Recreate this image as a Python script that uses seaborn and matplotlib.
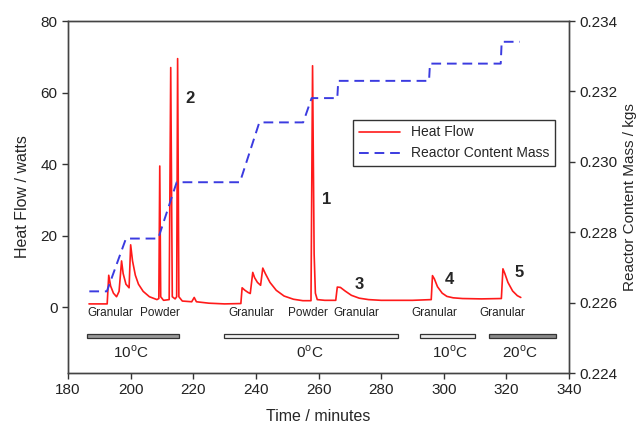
import matplotlib
matplotlib.use("Agg")
import matplotlib.pyplot as plt
import seaborn as sns
import pandas as pd

# heat flow trace (minutes, watts)
hf_time = [186.7, 192.5, 193.0, 193.6, 194.5, 195.5, 196.3, 197.1, 197.6, 198.5,
           199.5, 200.0, 200.6, 201.5, 202.5, 204.0, 206.0, 208.4, 209.0, 209.3,
           209.6, 210.5, 212.3, 212.8, 213.3, 214.2, 214.7, 215.0, 215.4, 216.5,
           219.5, 220.3, 221.0, 225.0, 230.0, 235.2, 235.6, 236.5, 237.5, 238.2,
           239.0, 239.6, 240.5, 241.5, 242.2, 243.0, 244.5, 246.5, 249.0, 252.0,
           255.0, 257.6, 258.1, 258.6, 259.0, 259.6, 262.0, 265.5, 266.0, 267.0,
           268.5, 270.5, 273.0, 276.0, 280.0, 290.0, 296.0, 296.4, 297.0, 298.0,
           299.5, 301.0, 303.0, 306.0, 312.0, 318.4, 318.9, 319.5, 320.5, 322.0,
           323.5, 324.6]
hf_watts = [1.0, 1.0, 9.0, 6.0, 4.0, 3.0, 4.5, 13.0, 9.5, 6.5,
            5.5, 17.5, 13.0, 9.0, 6.5, 4.5, 3.0, 2.2, 2.5, 39.5,
            3.0, 2.0, 2.2, 67.0, 3.0, 2.4, 3.0, 69.5, 3.0, 1.8,
            1.6, 2.8, 1.6, 1.2, 1.0, 1.1, 5.5, 4.8, 4.2, 3.9,
            9.8, 8.3, 7.0, 6.2, 11.0, 9.5, 7.0, 4.8, 3.2, 2.3,
            1.9, 1.9, 67.5, 15.0, 4.0, 2.2, 2.0, 2.0, 5.7, 5.6,
            4.6, 3.4, 2.6, 2.2, 2.0, 2.0, 2.2, 8.9, 8.0, 5.8,
            4.0, 3.1, 2.7, 2.5, 2.4, 2.5, 10.8, 9.5, 7.0, 4.6,
            3.3, 2.8]

# reactor content mass (minutes, kg)
mass_time = [186.8, 192.4, 198.5, 208.8, 214.7, 234.9, 241.1, 255.1, 257.8, 266.0,
             266.3, 295.3, 295.6, 318.2, 318.5, 324.3]
mass_kg = [0.22632, 0.22632, 0.22782, 0.22782, 0.22942, 0.22942, 0.23112, 0.23112,
           0.23181, 0.23181, 0.2323, 0.2323, 0.23279, 0.23279, 0.23341, 0.23341]

# temperature periods
temp_start = [186.2, 229.8, 292.4, 314.5]
temp_end = [215.5, 285.3, 310.1, 335.9]
temp_fill = ["#9a9a9a", "#f2f2f2", "#eeeeee", "#8a8a8a"]
temp_text = ["10$^\\mathregular{o}$C", "0$^\\mathregular{o}$C",
             "10$^\\mathregular{o}$C", "20$^\\mathregular{o}$C"]
temp_text_x = [200.0, 257.3, 302.0, 324.4]

# feed type labels
feed_text = ["Granular", "Powder", "Granular", "Powder", "Granular", "Granular", "Granular"]
feed_x = [193.6, 209.4, 238.6, 256.7, 272.2, 296.9, 318.7]

# peak numbers
peak_text = ["2", "1", "3", "4", "5"]
peak_x = [218.9, 262.7, 273.0, 301.7, 324.1]
peak_y = [58.3, 30.2, 6.4, 7.8, 9.8]

sns.set_style("ticks")
plt.rcParams["font.family"] = ["Liberation Sans", "DejaVu Sans"]

hf = pd.DataFrame({"time": hf_time, "watts": hf_watts})
ms = pd.DataFrame({"time": mass_time, "kg": mass_kg})

fig = plt.figure(figsize=(6.43, 4.29), dpi=100)
ax = fig.add_axes([0.1058, 0.1305, 0.7791, 0.8205])
ax2 = ax.twinx()

sns.lineplot(data=hf, x="time", y="watts", ax=ax, color="#ff1a1a", linewidth=1.2,
             estimator=None, sort=False, label="Heat Flow", legend=False)
sns.lineplot(data=ms, x="time", y="kg", ax=ax2, color="#3b3be0", linewidth=1.4,
             estimator=None, sort=False, label="Reactor Content Mass", legend=False)
ax2.lines[0].set_dashes([5, 3])

# temperature bars
ax.barh([-7.9] * len(temp_start), [e - s for s, e in zip(temp_start, temp_end)],
        left=temp_start, height=1.1, color=temp_fill, edgecolor="#333333", linewidth=0.9)
for x, t in zip(temp_text_x, temp_text):
    ax.text(x, -12.6, t, ha="center", va="center", fontsize=11, color="#222222")
for x, t in zip(feed_x, feed_text):
    ax.text(x, -1.5, t, ha="center", va="center", fontsize=8.5, color="#222222")
for x, y, t in zip(peak_x, peak_y, peak_text):
    ax.text(x, y, t, ha="center", va="center", fontsize=12, fontweight="bold")

ax.set_xlim(180, 340)
ax.set_ylim(-18.3, 80)
ax.set_xticks(range(180, 341, 20))
ax.set_yticks(range(0, 81, 20))
ax2.set_ylim(0.224, 0.234)
ax2.set_yticks([0.224, 0.226, 0.228, 0.230, 0.232, 0.234])
ax2.set_yticklabels(["%.3f" % v for v in [0.224, 0.226, 0.228, 0.230, 0.232, 0.234]])

ax.set_xlabel("Time / minutes", fontsize=11.5, labelpad=8)
ax.set_ylabel("Heat Flow / watts", fontsize=11.5, labelpad=8)
ax2.set_ylabel("Reactor Content Mass / kgs", fontsize=11, labelpad=4)

for a in (ax, ax2):
    a.tick_params(labelsize=11, length=4, width=1, colors="#333333", labelcolor="#222222")
    for sp in a.spines.values():
        sp.set_visible(True)
        sp.set_color("#444444")
        sp.set_linewidth(1)

handles = ax.get_lines()[:1] + ax2.get_lines()[:1]
leg = ax.legend(handles, ["Heat Flow", "Reactor Content Mass"], loc="upper left",
                bbox_to_anchor=(0.569, 0.719), borderaxespad=0, fancybox=False,
                fontsize=10, handlelength=3, framealpha=1, edgecolor="#333333")
leg.get_frame().set_linewidth(1)
leg.set_zorder(5)

fig.savefig("out.png", dpi=100)
